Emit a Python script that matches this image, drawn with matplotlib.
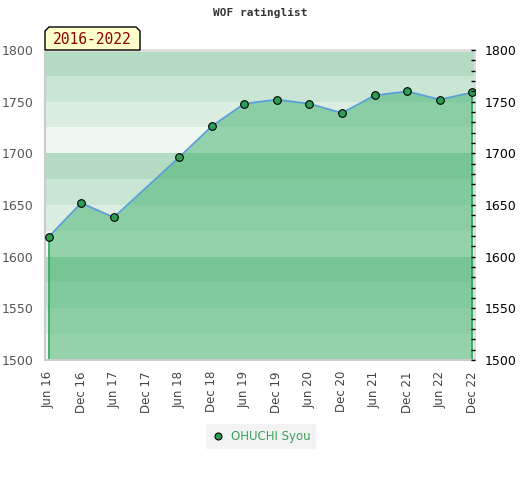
import matplotlib
matplotlib.use("Agg")
import matplotlib.pyplot as plt
from matplotlib.patches import Polygon
from matplotlib.lines import Line2D
import numpy as np

# dane
etykiety_x = ["Jun 16", "Dec 16", "Jun 17", "Dec 17", "Jun 18", "Dec 18", "Jun 19",
              "Dec 19", "Jun 20", "Dec 20", "Jun 21", "Dec 21", "Jun 22", "Dec 22"]
indeksy_punktow = [0, 1, 2, 4, 5, 6, 7, 8, 9, 10, 11, 12, 13]
ranking = [1619, 1652, 1638, 1696, 1726, 1748, 1752, 1748, 1739, 1756, 1760, 1752, 1759]
gracz = "OHUCHI Syou"
okres = "2016-2022"
tytul = "WOF ratinglist"

kolory_pasow = ["#eef7f0", "#dcede2", "#c8e6d3", "#b3dcc2"]


def rysuj():
    fig = plt.figure(figsize=(5.2, 4.8), dpi=100)
    ax = fig.add_axes([45 / 520, 1 - 360 / 480, 430 / 520, 310 / 480])
    ax.set_xlim(-0.11, 13.08)
    ax.set_ylim(1500, 1800)

    # pasy tla co 25 punktow
    for i, dol in enumerate(range(1500, 1800, 25)):
        ax.axhspan(dol, dol + 25, color=kolory_pasow[i % 4], lw=0, zorder=0)

    x = np.array(indeksy_punktow)
    y = np.array(ranking)
    ax.fill_between(x, y, 1500, color="#3cae6a", alpha=0.5, lw=0, zorder=1)
    ax.vlines([x[0], x[-1]], 1500, [y[0], y[-1]], color="#2ca85a", lw=1.2, zorder=2)
    ax.plot(x, y, color="#5a9fd6", lw=1.3, zorder=3)
    ax.plot(x, y, "o", ms=5.5, mfc="#2e9e55", mec="black", mew=0.8, zorder=4)

    ax.set_xticks(range(len(etykiety_x)))
    ax.set_xticklabels(etykiety_x, rotation=90, fontsize=8.5, color="#444")
    ax.tick_params(axis="x", length=0, pad=8)
    ax.set_yticks(range(1500, 1801, 50))
    ax.tick_params(axis="y", length=0, pad=8, labelsize=9, labelcolor="#555")

    for s in ["left", "bottom"]:
        ax.spines[s].set_color("#cccccc")
        ax.spines[s].set_linewidth(1.5)
    ax.spines["top"].set_color("#dddddd")
    ax.spines["top"].set_linewidth(2)
    ax.spines["right"].set_color("#dddddd")
    ax.spines["right"].set_linewidth(1.5)

    ax2 = ax.twinx()
    ax2.set_ylim(1500, 1800)
    ax2.set_yticks(range(1500, 1801, 50))
    ax2.set_yticks(range(1500, 1801, 10), minor=True)
    ax2.tick_params(axis="y", which="both", direction="in", length=3, width=1,
                    color="black", labelsize=9, labelcolor="black", pad=7)
    for s in ax2.spines.values():
        s.set_visible(False)

    fig.text(260 / 520, 1 - 13 / 480, tytul, ha="center", va="center",
             fontsize=8, fontweight="bold", family="DejaVu Sans Mono", color="#333")

    # etykieta z okresem
    x0, x1, y0, y1, c = 45, 140, 27, 50, 4
    pkt = [(x0, y1), (x0, y0 + c), (x0 + c, y0), (x1 - c, y0), (x1, y0 + c), (x1, y1)]
    pkt = [(px / 520, 1 - py / 480) for px, py in pkt]
    fig.patches.append(Polygon(pkt, closed=True, transform=fig.transFigure,
                               facecolor="#ffffcc", edgecolor="black", lw=1, zorder=5))
    fig.text((x0 + x1) / 2 / 520, 1 - 39.5 / 480, okres, ha="center", va="center",
             fontsize=10.5, color="#8b0000", family="DejaVu Sans Mono", zorder=6)

    uchwyt = Line2D([], [], ls="none", marker="o", ms=5, mfc="#2e9e55", mec="black", mew=0.8)
    leg = fig.legend([uchwyt], [gracz], loc="center",
                     bbox_to_anchor=(261 / 520, 1 - 436.5 / 480), fontsize=8.5,
                     frameon=True, fancybox=False, handlelength=1, handletextpad=0.6,
                     borderpad=0.5)
    leg.get_frame().set_facecolor("#f0f0f0")
    leg.get_frame().set_edgecolor("none")
    for t in leg.get_texts():
        t.set_color("#3aa05a")

    fig.savefig("out.png", dpi=100)


def main():
    rysuj()


if __name__ == "__main__":
    main()
